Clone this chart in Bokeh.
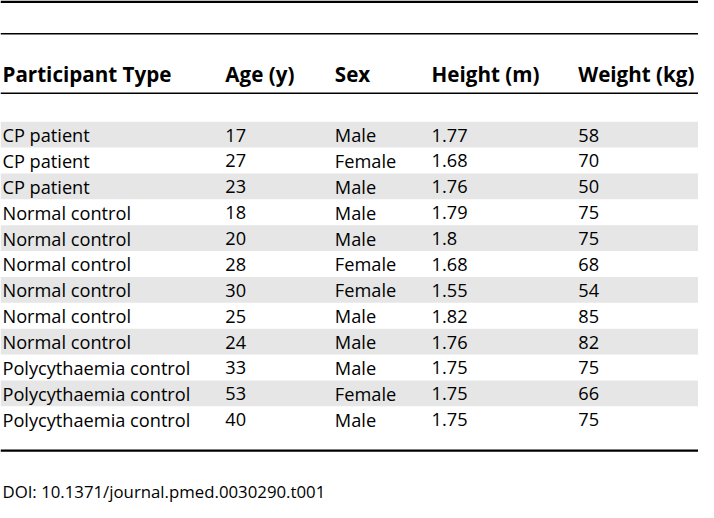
from bokeh.plotting import figure
from bokeh.models import Range1d, ColumnDataSource
from bokeh.core.properties import value
from bokeh.embed import file_html
from bokeh.resources import INLINE

headers = ["Participant Type", "Age (y)", "Sex", "Height (m)", "Weight (kg)"]
participant_type = ["CP patient", "CP patient", "CP patient",
                    "Normal control", "Normal control", "Normal control",
                    "Normal control", "Normal control", "Normal control",
                    "Polycythaemia control", "Polycythaemia control", "Polycythaemia control"]
age = ["17", "27", "23", "18", "20", "28", "30", "25", "24", "33", "53", "40"]
sex = ["Male", "Female", "Male", "Male", "Male", "Female", "Female", "Male", "Male", "Male", "Female", "Male"]
height = ["1.77", "1.68", "1.76", "1.79", "1.8", "1.68", "1.55", "1.82", "1.76", "1.75", "1.75", "1.75"]
weight = ["58", "70", "50", "75", "75", "68", "54", "85", "82", "75", "66", "75"]
doi = "DOI: 10.1371/journal.pmed.0030290.t001"

W, H = 714, 518
col_x = [2, 230, 342, 441, 591]
row_top = 125.0
row_h = 26.7
n = len(age)

p = figure(width=698, height=502, x_range=Range1d(0, W), y_range=Range1d(H, 0),
           output_backend="svg", toolbar_location=None, min_border=0)
p.axis.visible = False
p.grid.visible = False
p.outline_line_color = None
p.background_fill_color = "white"
p.border_fill_color = "white"

# shaded rows
shade_idx = [i for i in range(n) if i % 2 == 0]
p.quad(left=[0] * len(shade_idx), right=[W] * len(shade_idx),
       top=[row_top + row_h * i for i in shade_idx],
       bottom=[row_top + row_h * (i + 1) for i in shade_idx],
       fill_color="#e6e6e6", line_color=None)

# rules
p.segment(x0=[0, 0, 0, 0], x1=[W, W, W, W], y0=[1.2, 34.3, 95.8, 464.5], y1=[1.2, 34.3, 95.8, 464.5],
          line_color="black", line_width=[2.5, 1.5, 1.5, 2.2])

fs = "18.2px"
# header
p.text(x=col_x, y=[76.3] * 5, text=headers, text_font=value("Open Sans"),
       text_font_style="bold", text_font_size="20.6px", text_baseline="middle",
       text_align="left", text_color="black")

ys = [row_top + row_h * (i + 0.5) + 0.5 for i in range(n)]
for cx, col in zip(col_x, [participant_type, age, sex, height, weight]):
    src = ColumnDataSource(dict(x=[cx] * n, y=ys, t=col))
    p.text(x="x", y="y", text="t", source=src, text_font=value("Open Sans"),
           text_font_size=fs, text_baseline="middle", text_align="left", text_color="black")

p.text(x=[2], y=[506.5], text=[doi], text_font=value("Open Sans"), text_font_size="16.8px",
       text_baseline="middle", text_align="left", text_color="black")

open("out.html", "w").write(file_html(p, INLINE))
